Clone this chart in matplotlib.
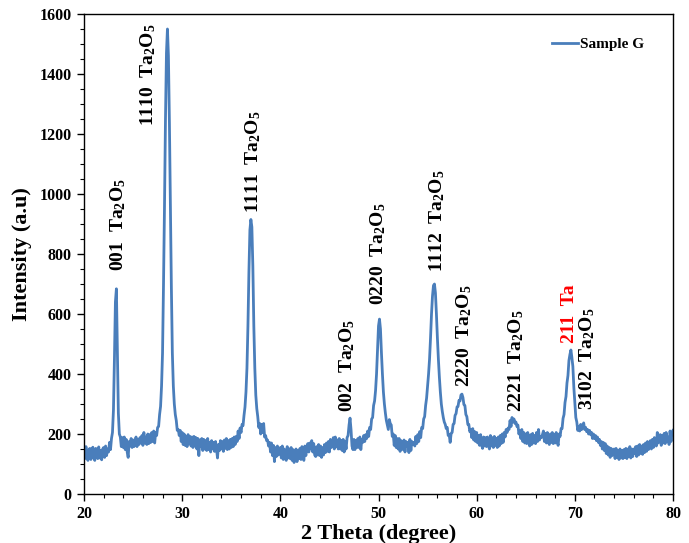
import numpy as np
import matplotlib
matplotlib.use("Agg")
import matplotlib.pyplot as plt
from matplotlib.ticker import MultipleLocator

# ---- data (2theta from 20.0 to 80.0, step 0.1) ----
two_theta_start = 20.0
two_theta_step = 0.1
intensity = [
    # 20.x
    150, 118, 158, 122, 112, 148, 152, 115, 140, 156,
    # 21.x
    120, 112, 152, 126, 118, 157, 120, 145, 114, 150,
    # 22.x
    155, 122, 160, 128, 150, 140, 172, 148, 185, 205,
    # 23.x
    280, 450, 640, 684, 470, 270, 200, 190, 158, 188,
    # 24.x
    155, 190, 148, 182, 140, 122, 175, 160, 185, 155,
    # 25.x
    180, 158, 175, 190, 158, 182, 165, 188, 170, 195,
    # 26.x
    162, 205, 170, 190, 165, 200, 168, 198, 172, 205,
    # 27.x
    175, 210, 170, 205, 195, 222, 225, 265, 292, 360,
    # 28.x
    470, 700, 960, 1250, 1470, 1550, 1460, 1240, 950, 690,
    # 29.x
    470, 360, 300, 265, 245, 212, 215, 195, 212, 175,
    # 30.x
    205, 165, 200, 162, 192, 158, 198, 170, 192, 160,
    # 31.x
    190, 155, 192, 160, 188, 150, 185, 128, 180, 158,
    # 32.x
    185, 145, 182, 150, 178, 145, 185, 148, 172, 140,
    # 33.x
    178, 150, 172, 142, 175, 150, 120, 165, 145, 178,
    # 34.x
    150, 175, 142, 180, 152, 185, 148, 178, 150, 182,
    # 35.x
    155, 185, 158, 190, 165, 192, 175, 210, 185, 220,
    # 36.x
    205, 232, 228, 262, 290, 340, 420, 560, 740, 880,
    # 37.x
    915, 890, 760, 560, 420, 330, 285, 258, 222, 235,
    # 38.x
    200, 232, 205, 235, 190, 195, 178, 180, 160, 172,
    # 39.x
    140, 170, 128, 162, 108, 155, 125, 160, 130, 142,
    # 40.x
    155, 120, 160, 115, 150, 125, 112, 158, 120, 150,
    # 41.x
    118, 155, 112, 148, 105, 142, 150, 108, 145, 118,
    # 42.x
    152, 115, 158, 122, 112, 160, 128, 155, 168, 140,
    # 43.x
    170, 150, 178, 140, 168, 130, 125, 158, 130, 165,
    # 44.x
    128, 160, 122, 155, 130, 165, 138, 170, 142, 175,
    # 45.x
    140, 182, 155, 170, 188, 150, 190, 158, 180, 150,
    # 46.x
    185, 150, 178, 145, 182, 140, 175, 150, 188, 195,
    # 47.x
    230, 253, 215, 160, 148, 182, 148, 178, 155, 185,
    # 48.x
    155, 190, 148, 182, 172, 195, 175, 198, 185, 210,
    # 49.x
    192, 222, 215, 250, 255, 295, 310, 345, 400, 480,
    # 50.x
    560, 583, 550, 470, 400, 340, 300, 270, 245, 230,
    # 51.x
    215, 248, 235, 230, 192, 200, 162, 195, 155, 185,
    # 52.x
    150, 185, 142, 178, 168, 148, 180, 140, 175, 160,
    # 53.x
    172, 138, 182, 145, 175, 165, 172, 160, 192, 168,
    # 54.x
    198, 175, 208, 188, 222, 218, 250, 258, 295, 320,
    # 55.x
    360, 400, 450, 520, 600, 660, 695, 700, 670, 600,
    # 56.x
    520, 450, 390, 340, 300, 275, 255, 240, 232, 218,
    # 57.x
    222, 195, 198, 172, 202, 205, 232, 235, 262, 268,
    # 58.x
    290, 292, 312, 310, 330, 333, 322, 298, 295, 265,
    # 59.x
    258, 232, 232, 208, 215, 188, 218, 180, 208, 175,
    # 60.x
    205, 170, 195, 162, 198, 165, 152, 190, 160, 188,
    # 61.x
    158, 190, 165, 150, 195, 160, 188, 155, 192, 162,
    # 62.x
    185, 155, 190, 160, 195, 168, 200, 172, 205, 190,
    # 63.x
    215, 205, 220, 215, 245, 225, 255, 240, 250, 235,
    # 64.x
    240, 225, 230, 200, 210, 185, 215, 175, 205, 170,
    # 65.x
    200, 168, 205, 175, 160, 198, 165, 202, 170, 195,
    # 66.x
    168, 205, 175, 215, 180, 192, 188, 198, 210, 175,
    # 67.x
    202, 170, 205, 175, 165, 200, 172, 205, 168, 198,
    # 68.x
    170, 205, 175, 162, 200, 192, 218, 218, 252, 265,
    # 69.x
    305, 325, 370, 395, 445, 465, 480, 455, 425, 355,
    # 70.x
    305, 255, 240, 212, 225, 210, 232, 215, 225, 237,
    # 71.x
    215, 222, 208, 215, 200, 212, 198, 205, 185, 200,
    # 72.x
    185, 195, 178, 190, 172, 182, 162, 175, 150, 172,
    # 73.x
    145, 168, 135, 160, 130, 155, 122, 152, 128, 140,
    # 74.x
    150, 118, 152, 122, 145, 115, 150, 120, 145, 118,
    # 75.x
    148, 122, 152, 118, 150, 125, 158, 120, 150, 125,
    # 76.x
    150, 135, 158, 125, 160, 130, 165, 135, 160, 132,
    # 77.x
    165, 138, 170, 142, 175, 148, 160, 178, 150, 182,
    # 78.x
    155, 188, 175, 160, 205, 170, 188, 198, 162, 195,
    # 79.x
    170, 202, 168, 205, 175, 190, 165, 210, 175, 205,
    # 80.0
    212,
]

peak_labels = ["001", "1110", "1111", "002", "0220", "1112", "2220", "2221", "3102"]
peak_label_x = [23.5, 26.5, 37.2, 46.8, 50.0, 56.0, 58.7, 64.0, 71.3]
peak_label_y = [743, 1227, 937, 273, 630, 740, 357, 273, 280]

ta_label = "211"
ta_label_x = 69.5
ta_label_y = 503

series_name = "Sample G"

# ---- plotting ----
plt.rcParams["font.family"] = ["Liberation Serif", "DejaVu Serif"]
plt.rcParams["font.weight"] = "bold"
plt.rcParams["mathtext.fontset"] = "custom"
plt.rcParams["mathtext.rm"] = "Liberation Serif:bold"
plt.rcParams["mathtext.it"] = "Liberation Serif:bold"
plt.rcParams["mathtext.bf"] = "Liberation Serif:bold"

fig = plt.figure(figsize=(6.89, 5.43), dpi=100)
ax = fig.add_axes([84 / 689, 49 / 543, 589 / 689, 480 / 543])

y = np.array(intensity, dtype=float)
x = two_theta_start + two_theta_step * np.arange(len(y))
ax.plot(x, y, color="#4A7EBB", lw=2.0, label=series_name)

ax.set_xlim(20, 80)
ax.set_ylim(0, 1600)
ax.xaxis.set_major_locator(MultipleLocator(10))
ax.xaxis.set_minor_locator(MultipleLocator(2))
ax.yaxis.set_major_locator(MultipleLocator(200))
ax.yaxis.set_minor_locator(MultipleLocator(50))
ax.tick_params(which="major", direction="out", length=5, width=1, labelsize=11.5, pad=4)
ax.tick_params(which="minor", direction="out", length=3, width=0.8)
for lab in ax.get_xticklabels() + ax.get_yticklabels():
    lab.set_fontweight("bold")
for sp in ax.spines.values():
    sp.set_linewidth(1.0)

ax.set_xlabel("2 Theta (degree)", fontsize=16, fontweight="bold", labelpad=1)
ax.set_ylabel("Intensity (a.u)", fontsize=16, fontweight="bold", labelpad=5)

ta2o5 = r"Ta$_2$O$_5$"
for lab, lx, ly in zip(peak_labels, peak_label_x, peak_label_y):
    ax.text(lx, ly, lab + "  " + ta2o5, rotation=90, ha="center", va="bottom",
            fontsize=14, fontweight="bold", color="black")
ax.text(ta_label_x, ta_label_y, ta_label + "  Ta", rotation=90, ha="center",
        va="bottom", fontsize=14, fontweight="bold", color="red")

leg = ax.legend(loc="center left", bbox_to_anchor=(0.795, 0.9375), frameon=False,
                handlelength=1.7, handletextpad=0.1, borderpad=0, borderaxespad=0,
                prop={"family": "Liberation Serif", "weight": "bold", "size": 11})

fig.savefig("out.png", dpi=100)
